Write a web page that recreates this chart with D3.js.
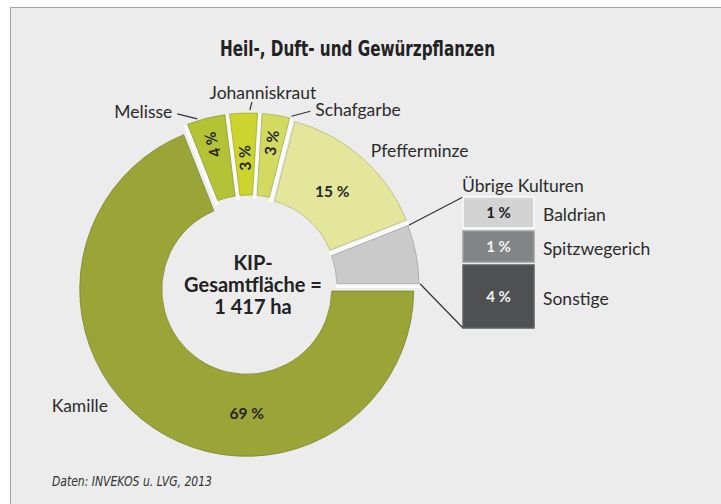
<!DOCTYPE html>
<html>
<head>
<meta charset="utf-8">
<script src="https://cdn.jsdelivr.net/npm/d3@7"></script>
<style>
  body { margin: 0; background: #fff; }
  svg { display: block; }
</style>
</head>
<body>
<div id="chart"></div>
<script>
'use strict';

// Anteile an der KIP-Gesamtfläche (%)
var names = ["Kamille", "Melisse", "Johanniskraut", "Schafgarbe", "Pfefferminze", "Übrige Kulturen"];
var subNames = ["Baldrian", "Spitzwegerich", "Sonstige"];
var subValues = [1, 1, 4];
var values = [69, 4, 3, 3, 15, d3.sum(subValues)];

var colors = ["#9ba436", "#b4c236", "#ccd52e", "#d3da62", "#e4e69b", "#c9cac9"];
var subColors = ["#d3d3d3", "#838486", "#4f5052"];
var subText = ["#222", "#f2f2f2", "#f2f2f2"];

var width = 721, height = 504;
var cx = 249, cy = 286;
var outerR = 167, innerR = 85;
var labelFont = "Lato, 'Open Sans', sans-serif";
var narrowFont = "'Liberation Sans Narrow', 'DejaVu Sans Condensed', sans-serif";

var svg = d3.select("#chart").append("svg")
    .attr("width", width)
    .attr("height", height);

svg.append("rect")
    .attr("x", 10.5).attr("y", 7.5)
    .attr("width", width).attr("height", height)
    .style("fill", "#ebeceb")
    .style("stroke", "#a2a3a2")
    .style("stroke-width", 1);

svg.append("text")
    .text("Heil-, Duft- und Gewürzpflanzen")
    .attr("x", 220).attr("y", 56)
    .attr("textLength", 275)
    .attr("lengthAdjust", "spacingAndGlyphs")
    .style("font-family", narrowFont)
    .style("font-weight", "bold")
    .style("font-size", "21px")
    .style("fill", "#222");

var pie = d3.pie()
    .sort(null)
    .startAngle(Math.PI / 2)
    .endAngle(Math.PI / 2 + 2 * Math.PI);

var arcs = pie(values);

var arc = d3.arc()
    .innerRadius(innerR)
    .outerRadius(outerR)
    .padRadius(100)
    .padAngle(0.035);

// slight "explosion" of each slice
var explode = [4, 6, 6, 6, 4, 3];

var polar = function (a, r) {
    return [Math.sin(a) * r, -Math.cos(a) * r];
};

var shift = function (d, i) {
    var a = (d.startAngle + d.endAngle) / 2;
    return polar(a, explode[i]);
};

var root = svg.append("g")
    .attr("transform", "translate(" + cx + "," + cy + ")");

// white seams between the slices
root.selectAll("line.seam")
    .data(arcs)
    .enter()
    .append("line")
    .attr("class", "seam")
    .attr("x1", function (d) { return polar(d.startAngle, innerR + 2)[0]; })
    .attr("y1", function (d) { return polar(d.startAngle, innerR + 2)[1]; })
    .attr("x2", function (d) { return polar(d.startAngle, outerR + 6)[0]; })
    .attr("y2", function (d) { return polar(d.startAngle, outerR + 6)[1]; })
    .style("stroke", "#fbfbfb")
    .style("stroke-width", 4);

var slices = root.selectAll("g.slice")
    .data(arcs)
    .enter()
    .append("g")
    .attr("class", "slice")
    .attr("transform", function (d, i) {
        var s = shift(d, i);
        return "translate(" + s[0] + "," + s[1] + ")";
    });

slices.append("path")
    .attr("d", arc)
    .style("fill", function (d, i) { return colors[i]; })
    .style("stroke", function (d, i) { return d3.color(colors[i]).darker(0.6); })
    .style("stroke-width", 0.8);

// percentage labels inside the slices
var pctLabel = function (v) { return v + " %"; };
var inLabel = [
    {angle: Math.PI, r: 124, rot: false},
    {r: 140, rot: true},
    {r: 122, rot: true},
    {r: 139, rot: true},
    {r: 122, rot: false},
    null
];

slices.filter(function (d, i) { return inLabel[i]; })
    .append("text")
    .text(function (d) { return pctLabel(d.value); })
    .attr("transform", function (d, i) {
        var o = inLabel[i];
        var a = o.angle !== undefined ? o.angle : (d.startAngle + d.endAngle) / 2;
        var p = polar(a, o.r);
        var t = "translate(" + p[0] + "," + p[1] + ")";
        if (o.rot) t += " rotate(" + (a * 180 / Math.PI - 90) + ")";
        return t;
    })
    .attr("dy", "0.36em")
    .style("font-family", labelFont)
    .style("font-weight", "bold")
    .style("font-size", "15.5px")
    .style("fill", "#262626")
    .style("text-anchor", "middle");

// outer name labels with short leader lines
var outer = {
    "Kamille":       {frac: 0.56, r: 177, dx: 0, dy: 0, tx: -5, ty: 7, anchor: "end", line: false},
    "Melisse":       {frac: 0.3, r: 169, dx: -20, dy: -5, tx: -5, ty: 4, anchor: "end", line: true},
    "Johanniskraut": {frac: 0.7, r: 170, dx: 2, dy: -8, tx: 11, ty: -3, anchor: "middle", line: true},
    "Schafgarbe":    {frac: 0.98, r: 169, dx: 19, dy: -5, tx: 5, ty: 5, anchor: "start", line: true},
    "Pfefferminze":  {frac: 0.5, r: 171, dx: 0, dy: 0, tx: 6, ty: 2, anchor: "start", line: false}
};

var outerArcs = arcs.filter(function (d, i) { return outer[names[i]]; });

var outerPoint = function (d) {
    var o = outer[names[d.index]];
    var a = d.startAngle + (d.endAngle - d.startAngle) * o.frac;
    var s = shift(d, d.index);
    var p = polar(a, o.r);
    return [p[0] + s[0], p[1] + s[1]];
};

root.selectAll("line.leader")
    .data(outerArcs.filter(function (d) { return outer[names[d.index]].line; }))
    .enter()
    .append("line")
    .attr("class", "leader")
    .attr("x1", function (d) { return outerPoint(d)[0]; })
    .attr("y1", function (d) { return outerPoint(d)[1]; })
    .attr("x2", function (d) { return outerPoint(d)[0] + outer[names[d.index]].dx; })
    .attr("y2", function (d) { return outerPoint(d)[1] + outer[names[d.index]].dy; })
    .style("stroke", "#333")
    .style("stroke-width", 1.2);

root.selectAll("text.name")
    .data(outerArcs)
    .enter()
    .append("text")
    .attr("class", "name")
    .text(function (d) { return names[d.index]; })
    .attr("x", function (d) { var o = outer[names[d.index]]; return outerPoint(d)[0] + o.dx + o.tx; })
    .attr("y", function (d) { var o = outer[names[d.index]]; return outerPoint(d)[1] + o.dy + o.ty; })
    .style("font-family", labelFont)
    .style("font-size", "17.5px")
    .style("fill", "#2b2b2b")
    .style("text-anchor", function (d) { return outer[names[d.index]].anchor; });

// centre text
var centreLines = ["KIP-", "Gesamtfläche =", "1 417 ha"];
root.selectAll("text.centre")
    .data(centreLines)
    .enter()
    .append("text")
    .attr("class", "centre")
    .text(function (d) { return d; })
    .attr("x", 4)
    .attr("y", function (d, i) { return -16 + i * 22; })
    .style("font-family", labelFont)
    .style("font-weight", "bold")
    .style("font-size", "20px")
    .style("fill", "#222")
    .style("text-anchor", "middle");

// breakdown of "Übrige Kulturen"
var rest = arcs[arcs.length - 1];
var restShift = shift(rest, arcs.length - 1);
var boxX = 463, boxW = 71, boxTop = 197, boxGap = 3;
var boxH = d3.scaleLinear().domain([1, 4]).range([31, 63]);

var boxY = [];
subValues.reduce(function (y, v, i) {
    boxY[i] = y;
    return y + boxH(v) + boxGap;
}, boxTop);
var boxBottom = boxY[boxY.length - 1] + boxH(subValues[subValues.length - 1]);

svg.append("text")
    .text(names[names.length - 1])
    .attr("x", boxX - 1)
    .attr("y", boxTop - 5)
    .style("font-family", labelFont)
    .style("font-size", "17.5px")
    .style("fill", "#2b2b2b");

var c1 = polar(rest.startAngle + 0.01, outerR + 1);
var c2 = polar(rest.endAngle - 0.01, outerR + 1);
svg.append("line")
    .attr("x1", cx + restShift[0] + c1[0]).attr("y1", cy + restShift[1] + c1[1])
    .attr("x2", boxX).attr("y2", boxTop)
    .style("stroke", "#333").style("stroke-width", 1.2);
svg.append("line")
    .attr("x1", cx + restShift[0] + c2[0]).attr("y1", cy + restShift[1] + c2[1])
    .attr("x2", boxX).attr("y2", boxBottom)
    .style("stroke", "#333").style("stroke-width", 1.2);

var boxes = svg.selectAll("g.box")
    .data(subValues)
    .enter()
    .append("g")
    .attr("class", "box")
    .attr("transform", function (d, i) { return "translate(" + boxX + "," + boxY[i] + ")"; });

boxes.append("rect")
    .attr("width", boxW)
    .attr("height", function (d) { return boxH(d); })
    .style("fill", function (d, i) { return subColors[i]; })
    .style("stroke", function (d, i) { return d3.color(subColors[i]).brighter(0.5); })
    .style("stroke-width", 1.5);

boxes.append("text")
    .text(function (d) { return pctLabel(d); })
    .attr("x", boxW / 2)
    .attr("y", function (d) { return boxH(d) / 2; })
    .attr("dy", "0.36em")
    .style("font-family", labelFont)
    .style("font-weight", "bold")
    .style("font-size", "15px")
    .style("fill", function (d, i) { return subText[i]; })
    .style("text-anchor", "middle");

boxes.append("text")
    .text(function (d, i) { return subNames[i]; })
    .attr("x", boxW + 9)
    .attr("y", function (d) { return boxH(d) / 2 + 2; })
    .attr("dy", "0.36em")
    .style("font-family", labelFont)
    .style("font-size", "17.5px")
    .style("fill", "#2b2b2b");

svg.append("text")
    .text("Daten: INVEKOS u. LVG, 2013")
    .attr("x", 52).attr("y", 486)
    .attr("textLength", 160)
    .attr("lengthAdjust", "spacingAndGlyphs")
    .style("font-family", narrowFont)
    .style("font-style", "italic")
    .style("font-size", "14px")
    .style("fill", "#333");
</script>
</body>
</html>
